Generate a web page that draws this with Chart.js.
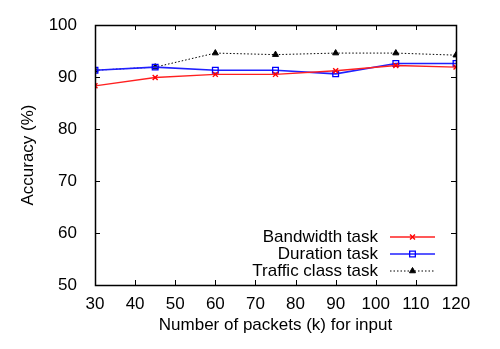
<!DOCTYPE html>
<html>
<head>
<meta charset="utf-8">
<script src="https://cdn.jsdelivr.net/npm/chart.js@4"></script>
<style>
  html, body { margin: 0; padding: 0; background: #fff; }
  #wrap { width: 500px; height: 349px; }
</style>
</head>
<body>
<div id="wrap"><canvas id="acc"></canvas></div>
<script>
const packets = [30, 45, 60, 75, 90, 105, 120];
const bandwidth = [88.3, 89.9, 90.5, 90.5, 91.2, 92.2, 91.9];
const duration = [91.3, 91.9, 91.3, 91.3, 90.6, 92.6, 92.6];
const trafficClass = [91.3, 91.9, 94.6, 94.3, 94.6, 94.6, 94.2];

const FONT = "'Liberation Sans', Arial, Helvetica, sans-serif";
const SIZE = 17;

const points = (ys) => packets.map((x, i) => ({ x: x, y: ys[i] }));

// gnuplot-like frame: border plus inward ticks on all four sides
const frame = {
  id: "frame",
  afterDraw(chart) {
    const { ctx, chartArea: a, scales } = chart;
    ctx.save();
    ctx.strokeStyle = "#000";
    ctx.lineWidth = 1;
    ctx.beginPath();
    scales.x.ticks.forEach((t) => {
      const px = Math.round(scales.x.getPixelForValue(t.value)) + 0.5;
      ctx.moveTo(px, a.bottom);
      ctx.lineTo(px, a.bottom - 5);
      ctx.moveTo(px, a.top);
      ctx.lineTo(px, a.top + 5);
    });
    scales.y.ticks.forEach((t) => {
      const py = Math.round(scales.y.getPixelForValue(t.value)) + 0.5;
      ctx.moveTo(a.left, py);
      ctx.lineTo(a.left + 5, py);
      ctx.moveTo(a.right, py);
      ctx.lineTo(a.right - 5, py);
    });
    ctx.stroke();
    ctx.lineWidth = 1.5;
    ctx.strokeRect(Math.round(a.left) + 0.5, Math.round(a.top) + 0.5,
      Math.round(a.right - a.left), Math.round(a.bottom - a.top));
    ctx.restore();
  },
};

// key in the lower right corner of the plot
const key = {
  id: "key",
  afterDraw(chart) {
    const { ctx } = chart;
    const textRight = 378, lineStart = 390, lineEnd = 435, rowTop = 237, rowGap = 17;
    ctx.save();
    ctx.font = SIZE + "px " + FONT;
    ctx.textAlign = "right";
    ctx.textBaseline = "middle";
    chart.data.datasets.forEach((ds, i) => {
      const y = rowTop + i * rowGap;
      ctx.fillStyle = "#000";
      ctx.fillText(ds.label, textRight, y);
      ctx.strokeStyle = ds.borderColor;
      ctx.lineWidth = ds.borderWidth;
      ctx.setLineDash(ds.borderDash || []);
      ctx.beginPath();
      ctx.moveTo(lineStart, y);
      ctx.lineTo(lineEnd, y);
      ctx.stroke();
      ctx.setLineDash([]);
      ctx.fillStyle = ds.pointBackgroundColor;
      ctx.strokeStyle = ds.pointBorderColor;
      ctx.lineWidth = ds.pointBorderWidth;
      Chart.helpers.drawPoint(ctx, {
        pointStyle: ds.pointStyle,
        radius: ds.pointRadius,
        borderWidth: ds.pointBorderWidth,
      }, (lineStart + lineEnd) / 2, y);
    });
    ctx.restore();
  },
};

const data = {
  datasets: [
    {
      label: "Bandwidth task",
      data: points(bandwidth),
      borderColor: "#ff2020",
      borderWidth: 1.4,
      pointStyle: "crossRot",
      pointRadius: 3.5,
      pointBorderColor: "#ff0000",
      pointBackgroundColor: "#ff0000",
      pointBorderWidth: 1.4,
    },
    {
      label: "Duration task",
      data: points(duration),
      borderColor: "#2020ff",
      borderWidth: 1.6,
      pointStyle: "rect",
      pointRadius: 4,
      pointBorderColor: "#0000ff",
      pointBackgroundColor: "rgba(0,0,0,0)",
      pointBorderWidth: 1.3,
    },
    {
      label: "Traffic class task",
      data: points(trafficClass),
      borderColor: "#000000",
      borderWidth: 1,
      borderDash: [1.5, 2],
      pointStyle: "triangle",
      pointRadius: 3.5,
      pointBorderColor: "#000000",
      pointBackgroundColor: "#000000",
      pointBorderWidth: 1,
    },
  ],
};

const config = {
  type: "line",
  data: data,
  options: {
    responsive: true,
    maintainAspectRatio: false,
    animation: false,
    events: [],
    layout: { padding: { top: 25, right: 44, left: 0, bottom: 0 } },
    plugins: {
      legend: { display: false },
      tooltip: { enabled: false },
    },
    scales: {
      x: {
        type: "linear",
        min: 30,
        max: 120,
        afterFit: (s) => { s.height = 64; },
        border: { display: false },
        grid: { display: false },
        ticks: {
          stepSize: 10,
          padding: 1,
          color: "#000",
          font: { family: FONT, size: SIZE },
          maxRotation: 0,
        },
        title: {
          display: true,
          text: "Number of packets (k) for input",
          color: "#000",
          font: { family: FONT, size: SIZE },
          padding: { top: 0, bottom: 13 },
        },
      },
      y: {
        min: 50,
        max: 100,
        afterFit: (s) => { s.width = 95; },
        border: { display: false },
        grid: { display: false },
        ticks: {
          stepSize: 10,
          padding: 10,
          color: "#000",
          font: { family: FONT, size: SIZE },
        },
        title: {
          display: true,
          text: "Accuracy (%)",
          color: "#000",
          font: { family: FONT, size: SIZE },
          padding: { top: 18, bottom: 0 },
        },
      },
    },
  },
  plugins: [frame, key],
};

const chart = new Chart(document.getElementById("acc"), config);
</script>
</body>
</html>
